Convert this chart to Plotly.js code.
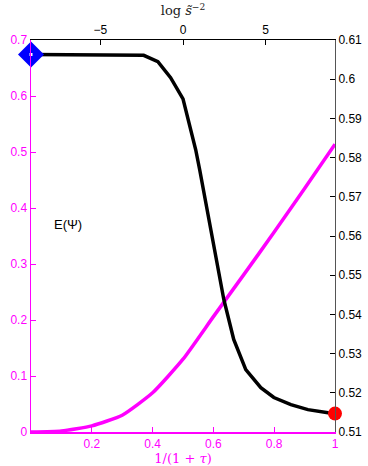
<!DOCTYPE html>
<html>
<head>
<meta charset="utf-8">
<script src="https://cdn.plot.ly/plotly-3.0.1.min.js"></script>
<style>html,body{margin:0;padding:0;background:#fff;}#chart{width:368px;height:466px;}</style>
</head>
<body>
<div id="chart"></div>
<script>
// Magenta curve: E vs 1/(1+tau) (bottom / left axes)
const tauX = [0, 0.1, 0.2, 0.3, 0.4, 0.5, 0.6, 0.7, 0.8, 0.9, 1.0];
const tauY = [0, 0.002, 0.011, 0.030, 0.070, 0.130, 0.206, 0.281, 0.357, 0.435, 0.514];

// Black curve: vs log s^-2 (top / right axes)
const logS = [-9.2, -2.38, -1.52, -0.75, 0, 0.77, 1.01, 1.62, 2.28, 2.47, 3.07, 3.8, 4.71, 5.5, 6.53, 7.56, 8.78, 9.2];
const sVal = [0.6063, 0.6061, 0.6045, 0.6004, 0.5950, 0.5820, 0.5769, 0.5629, 0.5489, 0.5438, 0.5336, 0.5259, 0.5213, 0.5188, 0.5170, 0.5157, 0.5149, 0.5147];

// Endpoint markers (on top/right axes)
const startPt = {x: [-9.2], y: [0.6063]};
const endPt = {x: [9.2], y: [0.5147]};

const leftTicks = [0, 0.1, 0.2, 0.3, 0.4, 0.5, 0.6, 0.7];
const leftText = ['0', '0.1', '0.2', '0.3', '0.4', '0.5', '0.6', '0.7'];
const bottomTicks = [0.2, 0.4, 0.6, 0.8, 1];
const bottomText = ['0.2', '0.4', '0.6', '0.8', '1'];
const topTicks = [-5, 0, 5];
const topText = ['\u22125', '0', '5'];
const rightTicks = [0.51, 0.52, 0.53, 0.54, 0.55, 0.56, 0.57, 0.58, 0.59, 0.6, 0.61];
const rightText = ['0.51', '0.52', '0.53', '0.54', '0.55', '0.56', '0.57', '0.58', '0.59', '0.6', '0.61'];

const MAG = '#ff00ff';
const tickFont = {family: 'Liberation Sans, Arial, sans-serif', size: 12};

const traces = [
  {x: tauX, y: tauY, xaxis: 'x', yaxis: 'y', mode: 'lines', line: {color: MAG, width: 3.5, shape: 'spline', smoothing: 0.5}, hoverinfo: 'skip'},
  {x: logS, y: sVal, xaxis: 'x2', yaxis: 'y2', mode: 'lines', line: {color: '#000', width: 3.5}, hoverinfo: 'skip'},
  {x: startPt.x, y: startPt.y, xaxis: 'x2', yaxis: 'y2', mode: 'markers', marker: {symbol: 'diamond', size: 20, color: '#0000ff'}, cliponaxis: false},
  {x: startPt.x, y: startPt.y, xaxis: 'x2', yaxis: 'y2', mode: 'markers', marker: {symbol: 'square', size: 3, color: '#fff'}, cliponaxis: false},
  {x: endPt.x, y: endPt.y, xaxis: 'x2', yaxis: 'y2', mode: 'markers', marker: {symbol: 'circle', size: 14, color: '#ff0000'}, cliponaxis: false}
];

const layout = {
  width: 368, height: 466,
  margin: {l: 31, r: 33, t: 40, b: 34},
  paper_bgcolor: '#fff', plot_bgcolor: '#fff',
  showlegend: false,
  xaxis: {
    range: [0, 1], tickvals: bottomTicks, ticktext: bottomText,
    showgrid: false, zeroline: false, showline: true, linecolor: MAG, linewidth: 1.5,
    ticks: 'inside', ticklen: 5, tickcolor: MAG, tickfont: Object.assign({color: MAG}, tickFont),
    title: {text: '1/(1 + <i>τ</i>)', font: {family: 'DejaVu Serif, Liberation Serif, serif', size: 13, color: MAG}, standoff: 2},
    fixedrange: true
  },
  yaxis: {
    range: [0, 0.7], tickvals: leftTicks, ticktext: leftText,
    showgrid: false, zeroline: false, showline: true, linecolor: MAG, linewidth: 1.5,
    ticks: 'inside', ticklen: 5, tickcolor: MAG, tickfont: Object.assign({color: MAG}, tickFont),
    fixedrange: true
  },
  xaxis2: {
    overlaying: 'x', side: 'top', anchor: 'y2',
    range: [-9.2, 9.2], tickvals: topTicks, ticktext: topText,
    showgrid: false, zeroline: false, showline: true, linecolor: '#000', linewidth: 1,
    ticks: 'inside', ticklen: 5, tickcolor: '#000', tickfont: Object.assign({color: '#000'}, tickFont),
    title: {text: 'log <i>s̃</i><sup>\u22122</sup>', font: {family: 'DejaVu Serif, Liberation Serif, serif', size: 13, color: '#222'}, standoff: 4},
    fixedrange: true
  },
  yaxis2: {
    overlaying: 'y', side: 'right', anchor: 'x2',
    range: [0.51, 0.61], tickvals: rightTicks, ticktext: rightText,
    showgrid: false, zeroline: false, showline: true, linecolor: '#555', linewidth: 1,
    ticks: 'inside', ticklen: 5, tickcolor: '#000', tickfont: Object.assign({color: '#000'}, tickFont),
    fixedrange: true
  },
  annotations: [
    {x: 0.07, y: 0.37, xref: 'x', yref: 'y', text: 'E(Ψ)', showarrow: false, xanchor: 'left', yanchor: 'middle',
     font: {family: 'Liberation Sans, Arial, sans-serif', size: 13, color: '#000'}}
  ]
};

Plotly.newPlot('chart', traces, layout, {displayModeBar: false, staticPlot: true});
</script>
</body>
</html>
